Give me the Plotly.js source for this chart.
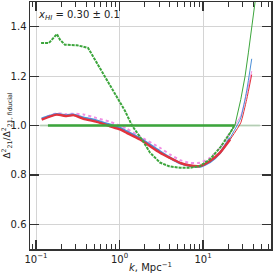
<!DOCTYPE html>
<html><head><meta charset="utf-8">
<script src="https://cdn.plot.ly/plotly-3.0.1.min.js"></script>
<style>body{margin:0;background:#fff}#c{width:274px;height:273px}</style>
</head><body><div id="c"></div>
<script>
// Green model curve
const kGreen = [0.115,0.143,0.178,0.194,0.222,0.309,0.42,0.51,0.634,0.77,1.01,1.16,1.41,1.91,2.32,3.05,4.0,5.3,7.0,9.2,12.1,16.0,21.1,24.2,28.3,31.9,34.9,38.3,42];
const yGreen = [1.334,1.334,1.37,1.347,1.327,1.325,1.314,1.265,1.21,1.16,1.095,1.06,1.0,0.937,0.89,0.85,0.834,0.829,0.829,0.836,0.863,0.91,0.97,1.004,1.105,1.2,1.294,1.4,1.5];
// Red / blue / pink curves
const kRBP = [0.117,0.177,0.233,0.28,0.37,0.533,0.77,1.01,1.22,1.76,3.05,4.0,5.3,7.0,9.2,12.1,16.0,21.1,28.3,33.3,38.3];
const yRed  = [1.024,1.044,1.038,1.042,1.027,1.015,0.997,0.984,0.97,0.943,0.89,0.869,0.849,0.838,0.836,0.856,0.89,0.943,1.011,1.105,1.206];
const yBlue = [1.028,1.046,1.041,1.044,1.032,1.02,1.003,0.99,0.976,0.948,0.895,0.87,0.848,0.837,0.834,0.852,0.89,0.95,1.03,1.14,1.27];
const yPink = [1.026,1.05,1.046,1.048,1.045,1.03,1.015,1.0,0.987,0.955,0.91,0.883,0.86,0.849,0.849,0.869,0.91,0.97,1.04,1.13,1.22];
// Fiducial reference lines
const kRefFaint = [0.112,48];
const yRefFaint = [1.0,1.0];
const kRefGreen = [0.139,23.5];
const yRefGreen = [1.0,1.0];
// Ticks
const xTickVals = [0.1,1,10];
const xTickText = ['10<sup>−1</sup>','10<sup>0</sup>','10<sup>1</sup>'];
const xMinorVals = [0.09,0.2,0.3,0.4,0.5,0.6,0.7,0.8,0.9,2,3,4,5,6,7,8,9,20,30,40,50,60];
const yTickVals = [0.6,0.8,1.0,1.2,1.4];
const yTickText = ['0.6','0.8','1.0','1.2','1.4'];

const KCUT = 25;
function part(k, y, thick) {
  const kk = [], yy = [];
  for (let i = 0; i < k.length; i++) {
    if (thick ? k[i] <= KCUT : k[i] >= KCUT*0.8) { kk.push(k[i]); yy.push(y[i]); }
  }
  return {x: kk, y: yy};
}
function tr(k, y, color, width, dash, thick, smooth) {
  const p = part(k, y, thick);
  return {x: p.x, y: p.y, type: 'scatter', mode: 'lines', hoverinfo: 'skip',
    line: smooth ? {color: color, width: width, dash: dash, shape: 'spline', smoothing: 0.5}
                 : {color: color, width: width, dash: dash}};
}
const cG = '#3ca53c', cR = '#e2323d', cB = '#4b8fd8', cP = '#f08ee4';
const data = [
  {x: kRefFaint, y: yRefFaint, type: 'scatter', mode: 'lines', line: {color: 'rgba(160,200,160,0.6)', width: 2}, hoverinfo: 'skip'},
  tr(kRBP, yPink, cP, 2, 'dot', true, true),
  tr(kRBP, yPink, cP, 1, 'solid', false, true),
  tr(kRBP, yBlue, cB, 2.4, 'solid', true, true),
  tr(kRBP, yBlue, cB, 1, 'solid', false, true),
  tr(kRBP, yRed, cR, 2.4, 'solid', true, true),
  tr(kRBP, yRed, cR, 1, 'solid', false, true),
  {x: kRefGreen, y: yRefGreen, type: 'scatter', mode: 'lines', line: {color: cG, width: 2.5}, hoverinfo: 'skip'},
  tr(kGreen, yGreen, cG, 2, '3px,1px', true, false),
  tr(kGreen, yGreen, cG, 1, 'solid', false, false)
];
const tickFont = {family: 'DejaVu Sans', size: 10, color: '#222'};
const layout = {
  width: 274, height: 273,
  margin: {l: 30, r: 3, t: 2, b: 24},
  paper_bgcolor: '#fff', plot_bgcolor: '#fff',
  showlegend: false,
  xaxis: {
    type: 'log', range: [-1.072, 1.814],
    tickmode: 'array', tickvals: xTickVals, ticktext: xTickText,
    ticks: 'inside', ticklen: 9, tickwidth: 1.2, tickcolor: '#333',
    mirror: 'ticks', showline: true, linecolor: '#333', linewidth: 1.5,
    showgrid: true, gridcolor: '#d4d4d4', gridwidth: 1,
    zeroline: false, tickfont: tickFont,
    minor: {tickmode: 'array', tickvals: xMinorVals, ticks: 'inside', ticklen: 5, tickwidth: 1, tickcolor: '#333', showgrid: false},
    title: {text: '<i>k</i>, Mpc<sup>−1</sup>', font: {family: 'DejaVu Sans', size: 10, color: '#222'}, standoff: 0}
  },
  yaxis: {
    range: [0.5, 1.5],
    tickmode: 'array', tickvals: yTickVals, ticktext: yTickText,
    ticks: 'inside', ticklen: 9, tickwidth: 1.2, tickcolor: '#333',
    mirror: 'ticks', showline: true, linecolor: '#333', linewidth: 1.5,
    showgrid: true, gridcolor: '#d4d4d4', gridwidth: 1,
    zeroline: false, tickfont: tickFont,
    title: {text: 'Δ<sup>2</sup><sub>21</sub>/Δ<sup>2</sup><sub>21, fiducial</sub>', font: {family: 'DejaVu Sans', size: 9, color: '#222'}, standoff: 2}
  },
  annotations: [{
    xref: 'paper', yref: 'paper', x: 0.025, y: 0.945, xanchor: 'left', yanchor: 'middle',
    text: '<i>x<sub>HI</sub></i> = 0.30 ± 0.1', showarrow: false,
    font: {family: 'DejaVu Sans', size: 10, color: '#222'}
  }]
};
Plotly.newPlot('c', data, layout, {displayModeBar: false, staticPlot: true});
</script></body></html>
